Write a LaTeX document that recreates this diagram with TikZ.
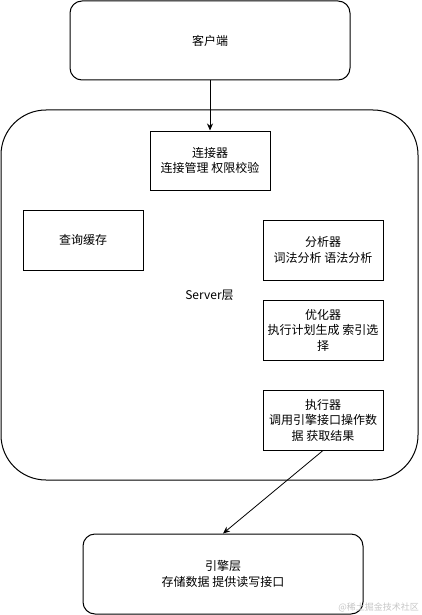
\documentclass[tikz,border=0pt]{standalone}
\usepackage{fontspec}
\setmainfont{Noto Sans CJK SC}
\usetikzlibrary{arrows.meta}
\tikzset{
  box/.style={draw=black, line width=1pt, rectangle, inner sep=0pt, align=center,
    font=\fontsize{12}{15.5}\selectfont},
  roundbox/.style={box, rounded corners=12pt},
  conn/.style={draw=black, line width=0.8pt, -{Stealth[length=7pt,width=6pt]}}
}
\begin{document}
\begin{tikzpicture}[x=1pt,y=-1pt]
\useasboundingbox (0,0) rectangle (421,615);
\node[box, rounded corners=45pt, minimum width=417pt, minimum height=370pt] (server) at (209.5,295) {Server层};
\node[roundbox, minimum width=280pt, minimum height=79pt] (client) at (210,40.5) {客户端};
\node[box, minimum width=120pt, minimum height=59pt] (connector) at (210,160.5) {连接器\\连接管理 权限校验};
\node[box, minimum width=120pt, minimum height=60pt] (cache) at (83,240) {查询缓存};
\node[box, minimum width=120pt, minimum height=60pt] (analyzer) at (323,250) {分析器\\词法分析 语法分析};
\node[box, minimum width=120pt, minimum height=60pt] (optimizer) at (323,330) {优化器\\执行计划生成 索引选\\择};
\node[box, minimum width=120pt, minimum height=60pt] (executor) at (323,420) {执行器\\调用引擎接口操作数\\据 获取结果};
\node[roundbox, minimum width=280pt, minimum height=80pt] (engine) at (223,574) {引擎层\\存储数据 提供读写接口};
\draw[conn] (client.south) -- (connector.north);
\draw[conn] (executor.south) -- (engine.north);
\node[anchor=east, text=gray!45, font=\fontsize{9}{10}\selectfont, inner sep=0pt] (wm) at (419,607) {@稀土掘金技术社区};
\end{tikzpicture}
\end{document}
